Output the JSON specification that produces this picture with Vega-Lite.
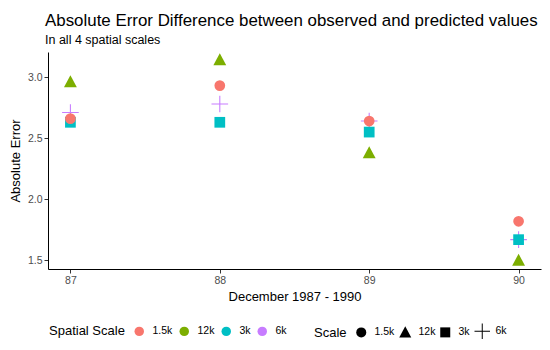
{
  "$schema": "https://vega.github.io/schema/vega-lite/v6.json",
  "width": 493,
  "height": 217,
  "autosize": {"type": "none"},
  "padding": {"left": 48, "top": 52, "right": 9, "bottom": 81},
  "background": "white",
  "config": {
    "font": "Liberation Sans",
    "view": {"stroke": null},
    "axis": {
      "grid": false,
      "domainColor": "#000000",
      "domainWidth": 1,
      "tickColor": "#333333",
      "tickSize": 4,
      "labelColor": "#4d4d4d",
      "labelFontSize": 10.5,
      "labelFont": "Liberation Sans",
      "titleFont": "Liberation Sans",
      "titleFontSize": 13,
      "titleFontWeight": "normal",
      "titleColor": "#000000"
    },
    "legend": {
      "titleFont": "Liberation Sans",
      "titleFontSize": 13,
      "titleFontWeight": "normal",
      "titleColor": "#000000",
      "labelFont": "Liberation Sans",
      "labelFontSize": 10.5,
      "labelColor": "#000000"
    }
  },
  "title": {
    "text": "Absolute Error Difference between observed and predicted values",
    "subtitle": "In all 4 spatial scales",
    "anchor": "start",
    "frame": "group",
    "dx": -3,
    "offset": 5,
    "font": "Liberation Sans",
    "fontSize": 16.9,
    "fontWeight": "normal",
    "color": "#000000",
    "subtitleFont": "Liberation Sans",
    "subtitleFontSize": 12.5,
    "subtitleColor": "#000000",
    "subtitlePadding": 4
  },
  "data": {
    "values": [
      {"month": 87, "spatial": "6k", "scale": "6k", "error": 2.71},
      {"month": 87, "spatial": "12k", "scale": "12k", "error": 2.96},
      {"month": 87, "spatial": "3k", "scale": "3k", "error": 2.63},
      {"month": 87, "spatial": "1.5k", "scale": "1.5k", "error": 2.66},
      {"month": 88, "spatial": "6k", "scale": "6k", "error": 2.78},
      {"month": 88, "spatial": "12k", "scale": "12k", "error": 3.14},
      {"month": 88, "spatial": "3k", "scale": "3k", "error": 2.63},
      {"month": 88, "spatial": "1.5k", "scale": "1.5k", "error": 2.93},
      {"month": 89, "spatial": "6k", "scale": "6k", "error": 2.64},
      {"month": 89, "spatial": "12k", "scale": "12k", "error": 2.38},
      {"month": 89, "spatial": "3k", "scale": "3k", "error": 2.55},
      {"month": 89, "spatial": "1.5k", "scale": "1.5k", "error": 2.64},
      {"month": 90, "spatial": "6k", "scale": "6k", "error": 1.67},
      {"month": 90, "spatial": "12k", "scale": "12k", "error": 1.5},
      {"month": 90, "spatial": "3k", "scale": "3k", "error": 1.67},
      {"month": 90, "spatial": "1.5k", "scale": "1.5k", "error": 1.82}
    ]
  },
  "mark": {"type": "point", "filled": true, "opacity": 1, "size": 115},
  "encoding": {
    "x": {
      "field": "month",
      "type": "quantitative",
      "scale": {"domain": [86.85, 90.15], "nice": false, "zero": false},
      "axis": {"values": [87, 88, 89, 90], "format": "d", "title": "December 1987 - 1990", "labelPadding": 2, "titlePadding": 5}
    },
    "y": {
      "field": "error",
      "type": "quantitative",
      "scale": {"domain": [1.43, 3.205], "nice": false, "zero": false},
      "axis": {"values": [1.5, 2.0, 2.5, 3.0], "format": ".1f", "title": "Absolute Error", "labelPadding": 2, "titlePadding": 5}
    },
    "color": {
      "field": "spatial",
      "type": "nominal",
      "scale": {"domain": ["1.5k", "12k", "3k", "6k"], "range": ["#F8766D", "#7CAE00", "#00BFC4", "#C77CFF"]},
      "legend": {
        "title": "Spatial Scale",
        "orient": "none",
        "direction": "horizontal",
        "titleOrient": "left",
        "legendX": 1,
        "legendY": 274,
        "symbolType": "circle",
        "symbolSize": 90,
        "symbolStrokeWidth": 0,
        "labelOffset": 8,
        "columnPadding": 6,
        "titlePadding": 9
      }
    },
    "shape": {
      "field": "scale",
      "type": "nominal",
      "scale": {
        "range": [
          "circle",
          "M0,-1.25L1.2,1L-1.2,1Z",
          "square",
          "M-1.55,-0.1H1.55V0.1H-1.55Z M-0.1,-1.55H0.1V1.55H-0.1Z"
        ]
      },
      "legend": {
        "title": "Scale",
        "orient": "none",
        "direction": "horizontal",
        "titleOrient": "left",
        "legendX": 266,
        "legendY": 274,
        "symbolSize": 100,
        "symbolFillColor": "#000000",
        "symbolStrokeColor": "#000000",
        "symbolStrokeWidth": 0,
        "labelOffset": 8,
        "columnPadding": 4,
        "titlePadding": 9
      }
    }
  }
}
